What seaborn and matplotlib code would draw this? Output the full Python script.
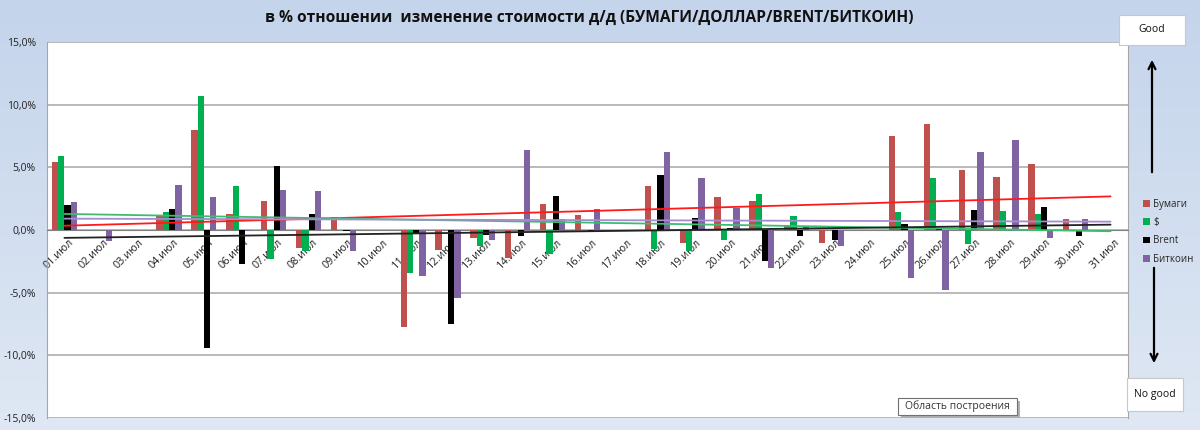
import numpy as np
import pandas as pd
import matplotlib
matplotlib.use("Agg")
import matplotlib.pyplot as plt
import seaborn as sns
from matplotlib.colors import LinearSegmentedColormap
from matplotlib.patches import Rectangle
from matplotlib.ticker import FuncFormatter, MultipleLocator

# --- data (daily change, %) ---
days = [f"{d:02d}.июл" for d in range(1, 32)]
series_names = ["Бумаги", "$", "Brent", "Биткоин"]

bumagi = [5.4, 0, 0, 1.2, 8.0, 1.3, 2.3, -1.4, 1.0, 0, -7.7, -1.6, -0.6, -2.2, 2.1, 1.2,
          0, 3.5, -1.0, 2.6, 2.3, 0.3, -1.0, 0, 7.5, 8.45, 4.8, 4.2, 5.3, 0.9, 0]
dollar = [5.9, 0, 0, 1.4, 10.7, 3.55, -2.3, -1.7, 0, 0, -3.4, 0, -1.25, 0, -1.9, 0,
          0, -1.5, -1.65, -0.8, 2.9, 1.1, 0, 0, 1.45, 4.15, -1.1, 1.5, 1.3, 0, 0]
brent = [2.0, 0, 0, 1.7, -9.4, -2.75, 5.1, 1.3, -0.1, 0, -0.35, -7.5, -0.4, -0.5, 2.7, -0.15,
         0, 4.4, 0.95, 0.15, -2.45, -0.5, -0.8, 0, 0.5, 0.05, 1.6, 0, 1.85, -0.5, 0]
bitcoin = [2.25, -0.85, 0, 3.6, 2.6, -0.1, 3.2, 3.1, -1.65, 0, -3.7, -5.4, -0.8, 6.4, 0.9, 1.7,
           0, 6.2, 4.15, 1.75, -3.0, 0.2, -1.3, 0, -3.8, -4.8, 6.25, 7.15, -0.6, 0.9, 0]

bar_colors = ["#C0504D", "#00B050", "#000000", "#8064A2"]
trend_colors = ["#FF1A1A", "#3DBE6E", "#222222", "#A58BD0"]

df = pd.DataFrame({"day": days, "Бумаги": bumagi, "$": dollar, "Brent": brent, "Биткоин": bitcoin})
long_df = df.melt(id_vars="day", var_name="series", value_name="value")
df["pos"] = np.arange(len(days))

sns.set_style("white")
plt.rcParams["font.family"] = ["Open Sans", "DejaVu Sans"]

fig = plt.figure(figsize=(12, 4.3), dpi=100)

# light blue gradient behind the chart
bg = fig.add_axes([0, 0, 1, 1], zorder=-5)
grad = np.linspace(0, 1, 256).reshape(-1, 1)
bg.imshow(grad, aspect="auto", extent=[0, 1, 0, 1],
          cmap=LinearSegmentedColormap.from_list("bg", ["#C4D4EB", "#DFE8F4"]))
bg.axis("off")

ax = fig.add_axes([47 / 1200, 12 / 430, 1081 / 1200, 376 / 430])
ax.set_facecolor("white")

sns.barplot(data=long_df, x="day", y="value", hue="series", hue_order=series_names,
            palette=bar_colors, width=0.72, saturation=1, linewidth=0, ax=ax, zorder=3)

# linear trend lines, like Excel
for name, col in zip(series_names, trend_colors):
    sns.regplot(data=df, x="pos", y=name, scatter=False, ci=None, truncate=True,
                line_kws={"color": col, "lw": 1.3, "zorder": 4}, ax=ax)

ax.set_xlim(-0.5, len(days) - 0.5)
ax.set_ylim(-15, 15)
ax.yaxis.set_major_locator(MultipleLocator(5))
ax.yaxis.set_major_formatter(FuncFormatter(lambda v, p: f"{v:.1f}%".replace(".", ",")))
ax.grid(axis="y", color="#A6A6A6", lw=1.1, zorder=0)
ax.set_axisbelow(True)
ax.set_xlabel("")
ax.set_ylabel("")

ax.spines["top"].set_visible(False)
ax.spines["left"].set_color("#A6A6A6")
ax.spines["right"].set_color("#A6A6A6")
ax.spines["bottom"].set_position(("data", 0))
ax.spines["bottom"].set_color("#808080")

ax.set_xticks(range(len(days)))
ax.set_xticklabels(days, rotation=45, ha="right", rotation_mode="anchor")
ax.tick_params(axis="x", length=0, pad=5, labelsize=7.8, colors="#222222")
ax.tick_params(axis="y", length=0, pad=8, labelsize=7.5, colors="#222222")
for lbl in ax.get_xticklabels():
    lbl.set_transform(lbl.get_transform() + matplotlib.transforms.ScaledTranslation(0.04, 0, fig.dpi_scale_trans))

handles, labels = ax.get_legend_handles_labels()
ax.legend_.remove()
fig.legend(handles, labels, loc="upper left", bbox_to_anchor=(1134 / 1200, 1 - 190 / 430),
           frameon=False, fontsize=7, handlelength=0.7, handleheight=0.7, handletextpad=0.4,
           labelspacing=0.75)

fig.text(589 / 1200, 1 - 18 / 430, "в % отношении  изменение стоимости д/д (БУМАГИ/ДОЛЛАР/BRENT/БИТКОИН)",
         ha="center", va="center", fontsize=11.2, fontweight="bold", color="#111111")

# Good / No good boxes and arrows
for (x0, y0, w, h, txt) in [(1119, 15, 66, 30, "Good"), (1127, 378, 56, 33, "No good")]:
    fig.add_artist(Rectangle((x0 / 1200, 1 - (y0 + h) / 430), w / 1200, h / 430,
                             transform=fig.transFigure, facecolor="white", edgecolor="#C8C8C8", lw=0.8))
    fig.text((x0 + w / 2) / 1200, 1 - (y0 + h / 2) / 430, txt, ha="center", va="center",
             fontsize=7.5, color="#111111")

arrow_kw = dict(arrowstyle="->, head_length=0.5, head_width=0.25", color="black", lw=1.6)
ax.annotate("", xy=(1152, 430 - 57), xytext=(1152, 430 - 175), xycoords="figure pixels",
            textcoords="figure pixels", arrowprops=arrow_kw, annotation_clip=False)
ax.annotate("", xy=(1154, 430 - 366), xytext=(1154, 430 - 265), xycoords="figure pixels",
            textcoords="figure pixels", arrowprops=arrow_kw, annotation_clip=False)

# hover tooltip from the screenshot
fig.add_artist(Rectangle((901 / 1200, 1 - 418 / 430), 119 / 1200, 17 / 430, transform=fig.transFigure,
                         facecolor="#B0B0B0", edgecolor="none", zorder=9))
fig.add_artist(Rectangle((898 / 1200, 1 - 415 / 430), 119 / 1200, 17 / 430, transform=fig.transFigure,
                         facecolor="white", edgecolor="#707070", lw=0.8, zorder=10))
fig.text(957 / 1200, 1 - 406.5 / 430, "Область построения", ha="center", va="center",
         fontsize=7.5, color="#333333", zorder=11)

fig.savefig("out.png", dpi=100)
